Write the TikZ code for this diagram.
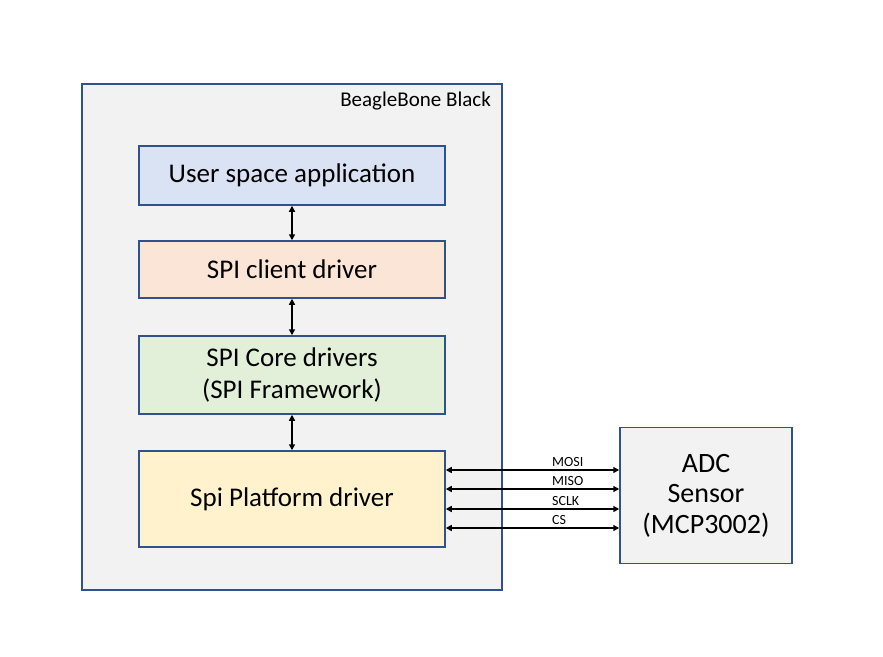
\documentclass[tikz,border=0pt]{standalone}
\usepackage{fontspec}
\setmainfont{Carlito}
\usetikzlibrary{arrows.meta}
\definecolor{edge}{HTML}{2F528F}
\definecolor{bgray}{HTML}{F2F2F2}
\definecolor{cblue}{HTML}{DAE3F3}
\definecolor{corange}{HTML}{FBE5D6}
\definecolor{cgreen}{HTML}{E2F0D9}
\definecolor{cyellow}{HTML}{FFF2CC}
\begin{document}
\begin{tikzpicture}[x=1pt,y=-1pt,
  blk/.style={draw=edge,line width=1.5pt,inner sep=0pt,align=center,font=\fontsize{27}{32}\selectfont},
  link/.style={line width=1.5pt,{Triangle[length=6pt,width=6pt]}-{Triangle[length=6pt,width=6pt]}},
  sig/.style={font=\fontsize{14}{16}\selectfont,anchor=west,inner sep=0pt}]
\useasboundingbox (0,0) rectangle (883,656);
\node[draw=edge,line width=1.5pt,fill=bgray,minimum width=420pt,minimum height=506pt,inner sep=0pt] (bbb) at (292,337) {};
\node[anchor=north east,inner sep=0pt,font=\fontsize{21}{24}\selectfont] (title) at (491,92) {BeagleBone Black};
\node[blk,fill=cblue,minimum width=306pt,minimum height=59pt] (usr) at (292,175.5) {User space application};
\node[blk,fill=corange,minimum width=306pt,minimum height=57pt] (cli) at (292,269.5) {SPI client driver};
\node[blk,fill=cgreen,minimum width=306pt,minimum height=78pt] (core) at (292,375) {SPI Core drivers\\(SPI Framework)};
\node[blk,fill=cyellow,minimum width=306pt,minimum height=96pt] (plat) at (292,499) {Spi Platform driver};
\node[blk,fill=bgray,minimum width=172pt,minimum height=136pt,font=\fontsize{28}{30.5}\selectfont] (adc) at (706,495.5) {ADC\\Sensor\\(MCP3002)};
\draw[link] (usr.south) -- (cli.north);
\draw[link] (cli.south) -- (core.north);
\draw[link] (core.south) -- (plat.north);
\foreach \yy/\nm in {470/MOSI,489/MISO,509/SCLK,528/CS}{
  \draw[link] (plat.east |- 0,\yy) -- (adc.west |- 0,\yy);
  \node[sig] (l\nm) at (552,\yy-8) {\nm};
}
\end{tikzpicture}
\end{document}
